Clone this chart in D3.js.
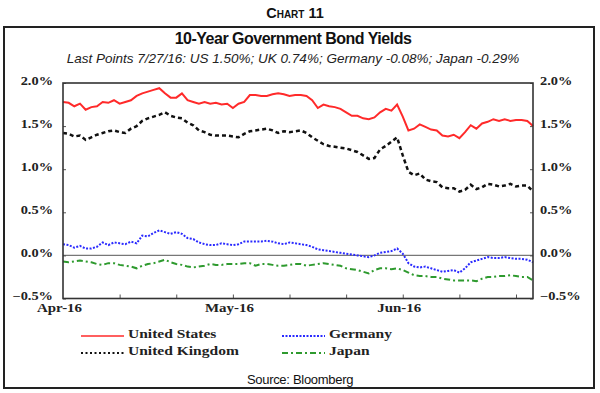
<!DOCTYPE html>
<html>
<head>
<meta charset="utf-8">
<script src="https://cdn.jsdelivr.net/npm/d3@7"></script>
<style>
  body { margin: 0; background: #fff; }
  #chart { width: 600px; height: 393px; }
  .axis text { font-family: "Liberation Serif", "Times New Roman", serif; font-weight: bold; font-size: 11.5px; fill: #222; }
  .axis path { display: none; }
  .axis line { stroke: #555; }
  .line { fill: none; }
</style>
</head>
<body>
<div id="chart"></div>
<script>
// daily 10y yields, 1 Apr 2016 .. 27 Jul 2016 (business days)
var us = [1.78,1.77,1.73,1.76,1.69,1.72,1.73,1.78,1.77,1.80,1.76,1.78,1.80,1.85,1.88,1.90,1.92,1.94,1.88,1.83,
  1.83,1.88,1.80,1.78,1.76,1.78,1.76,1.77,1.75,1.76,1.71,1.76,1.78,1.86,1.86,1.85,1.85,1.87,1.88,1.87,
  1.85,1.86,1.86,1.85,1.80,1.71,1.75,1.73,1.72,1.70,1.66,1.62,1.62,1.59,1.58,1.60,1.66,1.70,1.68,1.75,
  1.61,1.45,1.47,1.52,1.49,1.46,1.45,1.39,1.38,1.40,1.36,1.43,1.51,1.47,1.53,1.55,1.58,1.56,1.58,1.56,
  1.57,1.57,1.56,1.50];
var uk = [1.42,1.41,1.38,1.39,1.34,1.37,1.40,1.42,1.44,1.45,1.43,1.42,1.47,1.50,1.56,1.59,1.61,1.63,1.66,1.62,
  1.60,1.59,1.54,1.51,1.45,1.43,1.40,1.39,1.39,1.39,1.38,1.37,1.41,1.44,1.45,1.46,1.47,1.45,1.42,1.44,
  1.43,1.44,1.45,1.42,1.37,1.33,1.29,1.27,1.26,1.25,1.24,1.22,1.20,1.16,1.12,1.13,1.23,1.27,1.32,1.37,
  1.16,0.97,0.93,0.95,0.88,0.86,0.85,0.79,0.78,0.78,0.74,0.76,0.82,0.77,0.79,0.83,0.82,0.80,0.81,0.83,
  0.80,0.81,0.81,0.74];
var germany = [0.13,0.12,0.09,0.11,0.08,0.08,0.10,0.15,0.12,0.15,0.14,0.13,0.16,0.14,0.23,0.22,0.26,0.29,0.27,0.25,
  0.27,0.25,0.20,0.19,0.15,0.13,0.12,0.12,0.14,0.13,0.12,0.13,0.16,0.16,0.16,0.16,0.17,0.16,0.14,0.13,
  0.15,0.14,0.13,0.12,0.10,0.07,0.06,0.05,0.04,0.03,0.02,0.01,0.00,-0.01,-0.02,0.00,0.03,0.04,0.05,0.08,
  0.02,-0.09,-0.13,-0.14,-0.13,-0.15,-0.17,-0.19,-0.18,-0.17,-0.20,-0.15,-0.08,-0.06,-0.04,-0.02,-0.03,-0.03,-0.02,-0.03,
  -0.04,-0.04,-0.05,-0.08];
var japan = [-0.07,-0.08,-0.07,-0.06,-0.07,-0.08,-0.10,-0.11,-0.09,-0.09,-0.11,-0.12,-0.13,-0.15,-0.12,-0.10,-0.09,-0.07,-0.05,-0.08,
  -0.10,-0.11,-0.13,-0.14,-0.13,-0.12,-0.10,-0.11,-0.11,-0.10,-0.10,-0.10,-0.09,-0.09,-0.12,-0.10,-0.10,-0.11,-0.12,-0.12,
  -0.11,-0.10,-0.10,-0.12,-0.11,-0.10,-0.09,-0.10,-0.11,-0.12,-0.15,-0.16,-0.17,-0.19,-0.21,-0.17,-0.15,-0.15,-0.16,-0.15,
  -0.17,-0.20,-0.23,-0.24,-0.24,-0.25,-0.25,-0.27,-0.28,-0.29,-0.29,-0.29,-0.29,-0.30,-0.27,-0.25,-0.25,-0.24,-0.24,-0.23,
  -0.24,-0.25,-0.25,-0.29];

var monthLabels = ["Apr-16", "May-16", "Jun-16"];
var monthIdx = [0, 30, 60];
var yTicks = [-0.5, 0, 0.5, 1.0, 1.5, 2.0];

var series = [
  {name: "United States", values: us, color: "#ff2a2a", dash: null, w: 2},
  {name: "United Kingdom", values: uk, color: "#111", dash: "4,3", w: 2.5},
  {name: "Germany", values: germany, color: "#2a2aff", dash: "2,1.5", w: 2},
  {name: "Japan", values: japan, color: "#2e9a2e", dash: "6,3,2,3", w: 2}
];

var margin = {top: 83, left: 63},
    width = 470,
    height = 215.5;

var x = d3.scaleLinear().domain([0, us.length - 1]).range([0, width]);
var y = d3.scaleLinear().domain([-0.5, 2.0]).range([height, 0]);

// the original serif labels are stretched wide; stretch ours the same way
function stretch(sel, k) {
  sel.each(function() {
    var w = this.getComputedTextLength();
    d3.select(this).attr("textLength", w * k).attr("lengthAdjust", "spacingAndGlyphs");
  });
}

var svg = d3.select("#chart").append("svg")
    .attr("width", 600)
    .attr("height", 393);

// outer frame
svg.append("rect")
    .attr("x", 4).attr("y", 27).attr("width", 590).attr("height", 361)
    .attr("fill", "none").attr("stroke", "#222").attr("stroke-width", 2);

// headings
svg.append("text")
    .attr("x", 295).attr("y", 18)
    .attr("text-anchor", "middle")
    .style("font-family", "Liberation Sans, Arial, sans-serif")
    .style("font-weight", "bold")
    .style("font-size", "14.5px")
    .style("font-variant", "small-caps")
    .style("fill", "#111")
    .text("Chart 11");

svg.append("text")
    .attr("x", 293).attr("y", 43.5)
    .attr("text-anchor", "middle")
    .style("font-family", "Liberation Sans, Arial, sans-serif")
    .style("font-weight", "bold")
    .style("font-size", "16px")
    .style("letter-spacing", "-0.5px")
    .style("fill", "#111")
    .text("10-Year Government Bond Yields");

svg.append("text")
    .attr("x", 293).attr("y", 63)
    .attr("text-anchor", "middle")
    .style("font-family", "Liberation Sans, Arial, sans-serif")
    .style("font-style", "italic")
    .style("font-size", "13.5px")
    .style("fill", "#222")
    .text("Last Points 7/27/16: US 1.50%; UK 0.74%; Germany -0.08%; Japan -0.29%");

var g = svg.append("g")
    .attr("transform", "translate(" + margin.left + "," + margin.top + ")");

// zero line
g.append("line")
    .attr("x1", 0).attr("x2", width)
    .attr("y1", y(0)).attr("y2", y(0))
    .attr("stroke", "#777").attr("stroke-width", 1.2);

var fmt = function(d) { return d3.format(".1f")(d) + "%"; };

// Y axes
g.append("g")
    .attr("class", "axis")
    .call(d3.axisLeft(y).tickValues(yTicks).tickSize(-3).tickPadding(10).tickFormat(fmt))
    .selectAll("text").attr("dy", "0.1em").call(stretch, 1.25);

g.append("g")
    .attr("class", "axis")
    .attr("transform", "translate(" + width + ",0)")
    .call(d3.axisRight(y).tickValues(yTicks).tickSize(-3).tickPadding(7).tickFormat(fmt))
    .selectAll("text").attr("dy", "0.1em").call(stretch, 1.25);

// X axis ticks
g.append("g")
    .attr("class", "axis")
    .attr("transform", "translate(0," + height + ")")
    .call(d3.axisBottom(x).tickValues(d3.range(10, us.length - 1, 10)).tickSize(-4).tickFormat(""));

// X labels
g.append("g")
    .attr("class", "axis")
    .attr("transform", "translate(-4," + height + ")")
    .call(d3.axisBottom(x).tickValues(monthIdx).tickSize(0).tickPadding(5)
      .tickFormat(function(d, i) { return monthLabels[i]; }))
    .selectAll("text").call(stretch, 1.3);

// lines
var valueline = d3.line()
    .x(function(d, i) { return x(i); })
    .y(function(d) { return y(d); });

series.forEach(function(s) {
  g.append("path")
      .datum(s.values)
      .attr("class", "line")
      .style("stroke", s.color)
      .style("stroke-width", s.w)
      .style("stroke-dasharray", s.dash)
      .attr("d", valueline);
});

// plot frame
g.append("rect")
    .attr("width", width).attr("height", height)
    .attr("fill", "none").attr("stroke", "#333").attr("stroke-width", 1.6);

// legend
var legendPos = [[81, 337.5], [81, 354.5], [282, 337.5], [282, 354.5]];
var lg = svg.append("g");
series.forEach(function(s, i) {
  var p = legendPos[i];
  lg.append("line")
      .attr("x1", p[0]).attr("x2", p[0] + 43)
      .attr("y1", p[1] - 1.5).attr("y2", p[1] - 1.5)
      .style("stroke", s.color)
      .style("stroke-width", i == 0 ? 1.5 : 2)
      .style("stroke-dasharray", i == 1 ? "2,2.5" : s.dash);
  lg.append("text")
      .attr("x", p[0] + 47).attr("y", p[1])
      .style("font-family", "Liberation Serif, Times New Roman, serif")
      .style("font-weight", "bold")
      .style("font-size", "11.5px")
      .style("fill", "#222")
      .text(s.name)
      .call(stretch, 1.35);
});

svg.append("text")
    .attr("x", 300).attr("y", 384)
    .attr("text-anchor", "middle")
    .style("font-family", "Liberation Sans, Arial, sans-serif")
    .style("font-size", "13px")
    .style("letter-spacing", "-0.3px")
    .style("fill", "#111")
    .text("Source: Bloomberg");
</script>
</body>
</html>
